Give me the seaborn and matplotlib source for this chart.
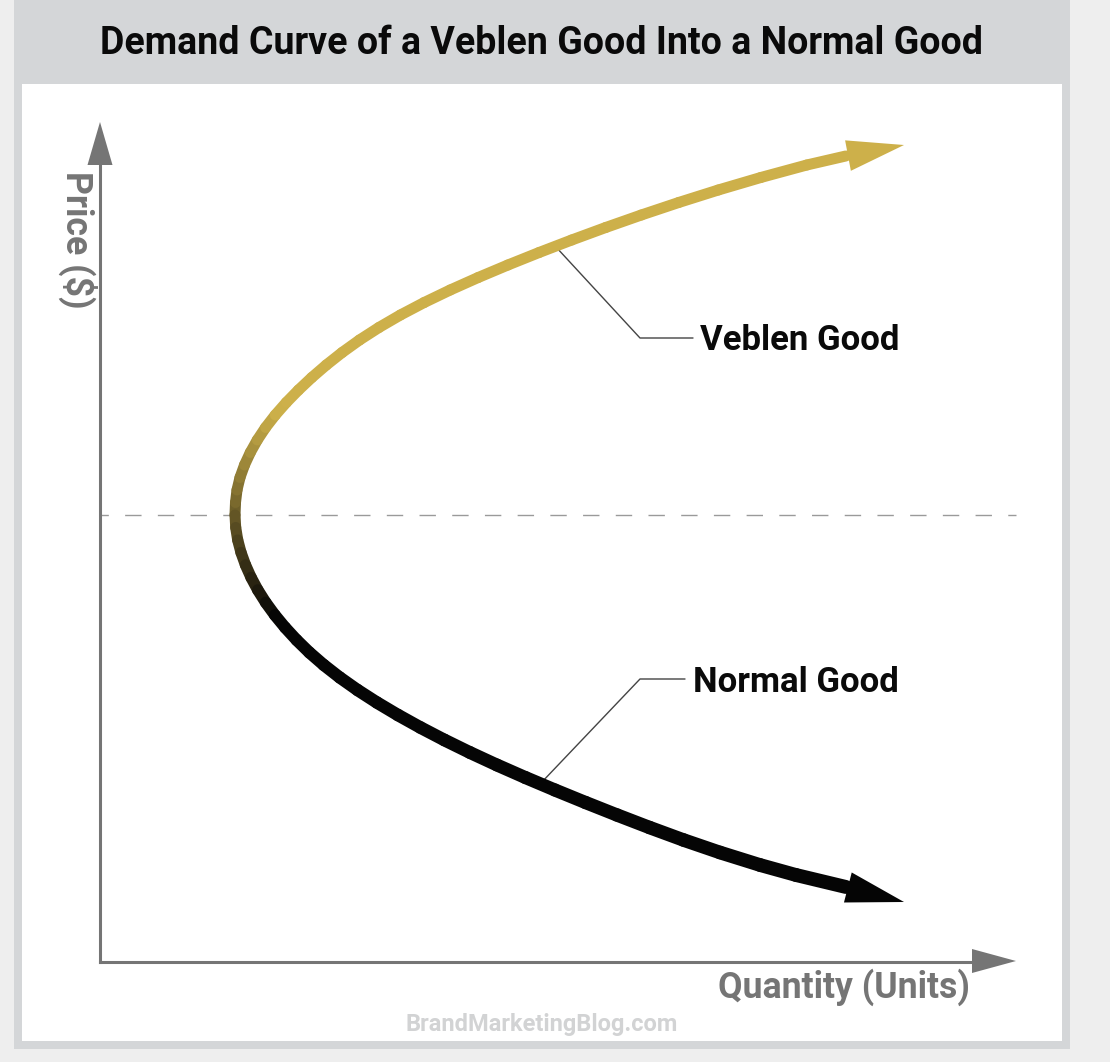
import matplotlib
matplotlib.use("Agg")
import matplotlib.pyplot as plt
from matplotlib.colors import to_rgb
from matplotlib.patches import Rectangle
import numpy as np
import seaborn as sns

TITLE = "Demand Curve of a Veblen Good Into a Normal Good"
X_LABEL = "Quantity (Units)"
Y_LABEL = "Price ($)"
SOURCE = "BrandMarketingBlog.com"

# Values (quantity from the price axis, price from the quantity axis)
veblen_q = [135, 135.5, 137, 140, 144.5, 150.3, 157.3, 165.6, 175.3, 186.3, 198.5, 211.8, 226.3,
            242.1, 259.5, 278.9, 300.4, 324.2, 350.2, 378.2, 407.9, 439.1, 471.7, 505.7, 541.3,
            578.7, 618.3, 660.8, 706.8, 745.8]
veblen_p = [447, 459.5, 472, 484.5, 497, 509.5, 522, 534.5, 547, 559.5, 572, 584.5, 597,
            609.5, 622, 634.5, 647, 659.5, 672, 684.5, 697, 709.5, 722, 734.5, 747,
            759.5, 772, 784.5, 797, 806]
normal_q = [135, 135.7, 137.7, 141, 145.5, 151.1, 157.8, 165.7, 174.8, 185.1, 196.6, 209.4,
            223.8, 239.8, 257.5, 276.9, 297.9, 320.4, 344.4, 369.9, 396.9, 425.3, 454.9, 485.5,
            517, 549.5, 583.5, 620, 660, 696, 746]
normal_p = [447, 434.5, 422, 409.5, 397, 384.5, 372, 359.5, 347, 334.5, 322, 309.5,
            297, 284.5, 272, 259.5, 247, 234.5, 222, 209.5, 197, 184.5, 172, 159.5,
            147, 134.5, 122, 109.5, 97, 87, 75]
veblen_tip = (804, 817)
normal_tip = (804, 60)
break_even_price = 447
axis_q_end = 916
axis_p_end = 840
veblen_leader_q = [456, 540, 593]
veblen_leader_p = [715, 624, 624]
normal_leader_q = [441, 540, 585]
normal_leader_p = [179, 283, 283]
veblen_label = "Veblen Good"
normal_label = "Normal Good"

GOLD = "#cdb04a"
BLACK = "#050505"
AXIS_GREY = "#757575"

sns.set_theme(style="white")
plt.rcParams["font.family"] = ["Roboto", "DejaVu Sans"]

fig = plt.figure(figsize=(11.10, 10.62), dpi=100, facecolor="#eeeeee")
W, H = 1110, 1062


def card(x0, y0, x1, y1, color, z):
    fig.add_artist(Rectangle((x0 / W, 1 - y1 / H), (x1 - x0) / W, (y1 - y0) / H,
                             transform=fig.transFigure, facecolor=color, edgecolor="none", zorder=z))


card(14, 0, 1070, 1049, "#d4d6d8", -3)
card(22, 84, 1062, 1041, "#ffffff", -2)

ax = fig.add_axes([0, 0, 1, 1])
ax.patch.set_alpha(0)
ax.set_xlim(-100, 1010)
ax.set_ylim(-100, 962)
ax.set_xticks([])
ax.set_yticks([])
for side in ("top", "right"):
    ax.spines[side].set_visible(False)
ax.spines["left"].set_position(("data", 0))
ax.spines["bottom"].set_position(("data", 0))
ax.spines["left"].set_bounds(0, 800)
ax.spines["bottom"].set_bounds(0, 875)
for side in ("left", "bottom"):
    ax.spines[side].set_color(AXIS_GREY)
    ax.spines[side].set_linewidth(2.2)


def blend(price):
    t = np.clip((price - 340) / (555 - 340), 0, 1)
    return tuple(np.array(to_rgb(BLACK)) * (1 - t) + np.array(to_rgb(GOLD)) * t)


def draw_curve(qs, ps, w0, w1):
    n = len(qs) - 1
    for i in range(n):
        sns.lineplot(x=qs[i:i + 2], y=ps[i:i + 2], ax=ax, color=blend((ps[i] + ps[i + 1]) / 2),
                     linewidth=(w0 + (w1 - w0) * i / n) * 0.72, sort=False, estimator=None,
                     solid_capstyle="round", zorder=3, legend=False)


sns.lineplot(x=[0, axis_q_end], y=[break_even_price, break_even_price], ax=ax, color="#9a9a9a",
             linewidth=1.0, zorder=1, legend=False)
ax.lines[-1].set_linestyle((5.8, (11.8, 11.75)))
draw_curve(veblen_q, veblen_p, 11, 11)
draw_curve(normal_q, normal_p, 11, 14)

sns.lineplot(x=veblen_leader_q, y=veblen_leader_p, ax=ax, color="#444444", linewidth=1.0,
             sort=False, estimator=None, zorder=2, legend=False)
sns.lineplot(x=normal_leader_q, y=normal_leader_p, ax=ax, color="#444444", linewidth=1.0,
             sort=False, estimator=None, zorder=2, legend=False)


def head(tip, base, color, length, half):
    ax.annotate("", xy=tip, xytext=base, zorder=4,
                arrowprops=dict(arrowstyle=f"-|>,head_length={length * 0.72},head_width={half * 0.72}",
                                mutation_scale=1, shrinkA=0, shrinkB=0, color=color, lw=0))


head(veblen_tip, (veblen_q[-1], veblen_p[-1]), GOLD, 57, 15.5)
head(normal_tip, (normal_q[-1], normal_p[-1]), BLACK, 58, 15.5)
head((0, axis_p_end), (0, 790), AXIS_GREY, 43, 12.5)
head((axis_q_end, 1), (870, 1), AXIS_GREY, 44, 12)

ax.set_xlabel(X_LABEL, fontsize=25.7, fontweight="bold", color=AXIS_GREY, ha="right", va="center", visible=True)
ax.xaxis.set_label_coords(870, -25, transform=ax.transData)
ax.set_ylabel(Y_LABEL, fontsize=25.7, fontweight="bold", color=AXIS_GREY, rotation=-90, ha="center", va="center",
              visible=True)
ax.yaxis.set_label_coords(-22, 722, transform=ax.transData)

ax.text(799, 622, veblen_label, fontsize=25, fontweight="bold", color="#0a0a0a", ha="right", va="center")
ax.text(799, 280, normal_label, fontsize=25, fontweight="bold", color="#0a0a0a", ha="right", va="center")
ax.text(442, -63, SOURCE, fontsize=17, fontweight="bold", color="#d2d3d4", ha="center", va="center")
fig.suptitle(TITLE, x=541 / W, y=1 - 44 / H, fontsize=27, fontweight="bold", color="#0a0a0a",
             ha="center", va="center")

fig.savefig("out.png", dpi=100, facecolor=fig.get_facecolor())
